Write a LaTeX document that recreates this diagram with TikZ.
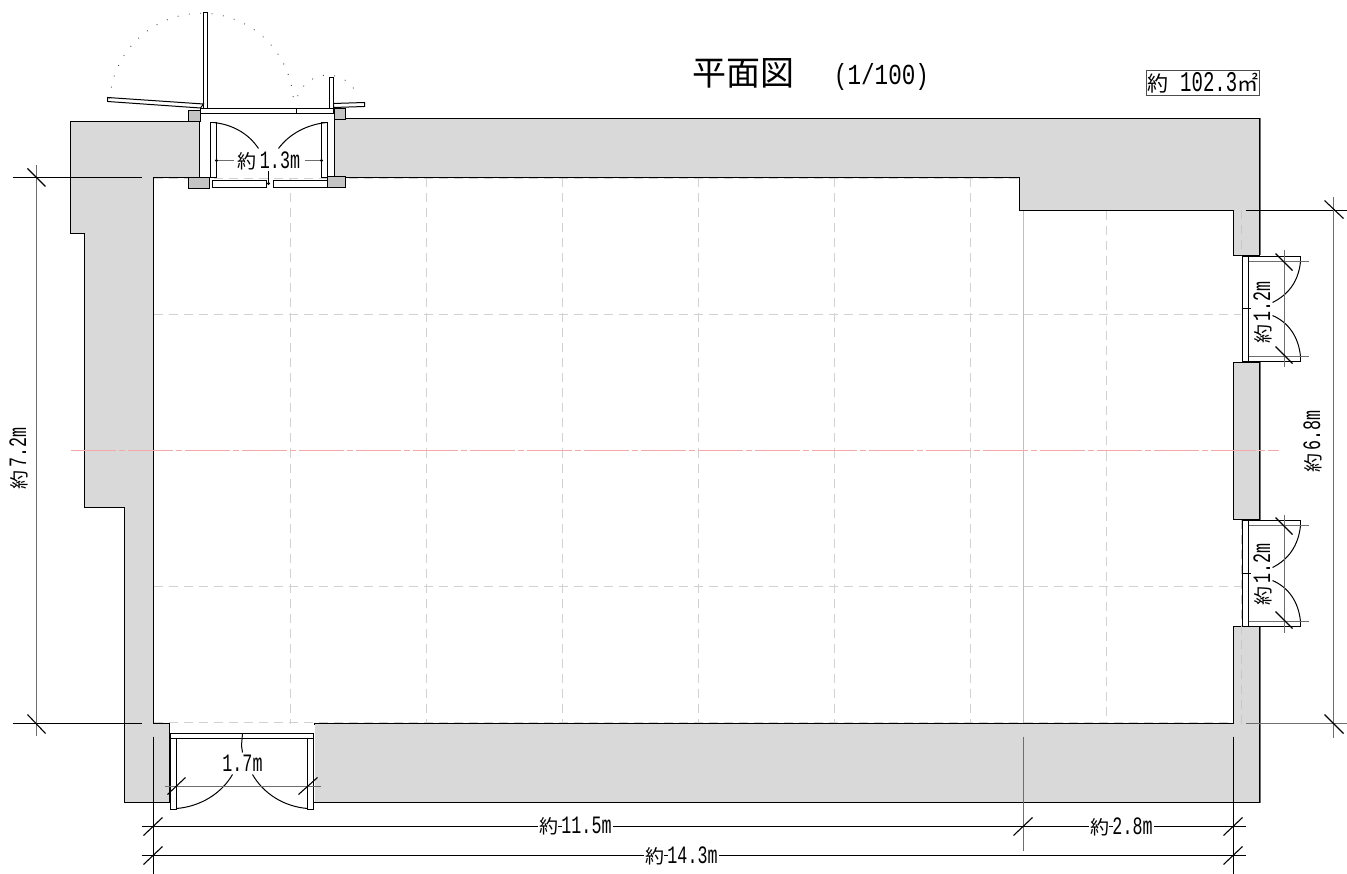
\documentclass[tikz,border=0pt]{standalone}
\usepackage{fontspec}
\setmainfont{Liberation Sans}
\newfontfamily\jpf{Noto Sans CJK JP}
\newfontfamily\hwf[FakeStretch=0.667]{Liberation Mono}
\newfontfamily\hwt[FakeStretch=0.78]{Liberation Mono}
\newcommand{\dimlab}[1]{{\jpf\fontsize{19}{19}\selectfont 約}\kern3pt{\hwf\fontsize{25}{25}\selectfont #1}}
\usetikzlibrary{calc}
\definecolor{wallgrey}{HTML}{D9D9D9}
\definecolor{postgrey}{HTML}{C4C4C4}
\definecolor{gridgrey}{HTML}{D2D2D2}
\definecolor{dimgrey}{HTML}{6E6E6E}
\definecolor{axisred}{HTML}{F4A8A8}
\tikzset{
  wall/.style={fill=wallgrey,draw=black,line width=1pt,line join=miter},
  post/.style={fill=postgrey,draw=black,line width=1pt},
  panel/.style={fill=white,draw=black,line width=1pt},
  gridline/.style={draw=gridgrey,line width=1pt,dash pattern=on 9pt off 6pt},
  griddark/.style={draw=black!22,line width=1pt,dash pattern=on 9pt off 6pt},
  axisline/.style={draw=axisred,line width=1pt,dash pattern=on 45pt off 3pt on 6pt off 3pt},
  dimline/.style={draw=black,line width=1pt},
  dimsoft/.style={draw=dimgrey,line width=1.3pt},
  tick/.style={draw=black,line width=1.1pt},
  swing/.style={draw=black,line width=1pt},
  ghost/.style={draw=black!70,line width=0.9pt,dash pattern=on 0.9pt off 10.5pt},
  lab/.style={inner sep=0pt,outer sep=0pt,text=black},
  labw/.style={inner sep=1.5pt,outer sep=0pt,fill=white,text=black}
}
\begin{document}
\begin{tikzpicture}[x=1pt,y=-1pt]
\useasboundingbox (0,0) rectangle (1347,874);
\begin{scope}[shift={(0.5,0.5)}]
% room grid
\foreach \gx in {290,426,562,698,834,970}{\draw[gridline] (\gx,178)--(\gx,723);}
\draw[gridline] (1106,211)--(1106,723);
\draw[gridline] (153,314)--(1240,314);
\draw[gridline] (153,586)--(1240,586);
\draw[gridline] (153,178)--(1019,178);
\draw[gridline] (153,722)--(1233,722);
\draw[draw=black!25,line width=1pt] (1023,210)--(1023,723);
% walls
\draw[wall] (70,121)--(199,121)--(199,177)--(153,177)--(153,723)--(169,723)--(169,802)--(124,802)--(124,507)--(84,507)--(84,233)--(70,233)--cycle;
\draw[wall] (334,118)--(1259,118)--(1259,255)--(1233,255)--(1233,210)--(1019,210)--(1019,177)--(334,177)--cycle;
\draw[wall] (1233,362)--(1259,362)--(1259,519)--(1233,519)--cycle;
\draw[wall] (1233,626)--(1259,626)--(1259,802)--(314,802)--(314,723)--(1233,723)--cycle;
\draw[draw=dimgrey,line width=1.3pt] (1260,118)--(1260,255) (1260,362)--(1260,519) (1260,626)--(1260,802);
% dashes inside the right wall
\draw[griddark] (1241,210)--(1241,255) (1241,519)--(1241,723);
% axis
\draw[axisline] (70,450)--(1278,450);
% top entrance
\draw[post] (188,110) rectangle (200,121);
\draw[post] (334,108) rectangle (345,119);
\draw[post] (188,177) rectangle (209,188);
\draw[post] (327,176) rectangle (345,187);
\draw[panel] (200,108) rectangle (296,113);
\draw[panel] (296,108) rectangle (333,113);
\draw[panel] (203,12) rectangle (207,108);
\draw[panel] (329,77) rectangle (333,108);
\draw[panel] (107,97)--(203,103.5)--(200,107.5)--(107,101)--cycle;
\draw[panel] (333,103)--(364,102)--(364,106)--(333,107)--cycle;
\draw[ghost] (205,105) ++(-176:96) arc[start angle=-176,end angle=-5,radius=92];
\draw[ghost] (331,108) ++(-160:36) arc[start angle=-160,end angle=-20,radius=32];
\draw[panel] (210,122) rectangle (216,177);
\draw[panel] (321,122) rectangle (327,177);
\draw[panel] (212,180)--(266,180)--(266,187)--(212,187)--cycle;
\draw[panel] (273,180)--(327,180)--(327,187)--(273,187)--cycle;
\draw[swing] (213,122) .. controls (232,124) and (248,133) .. (258,148);
\draw[swing] (326,122) .. controls (307,124) and (289,133) .. (278,148);
\draw[dimline] (268,171)--(268,185);
\fill (268,183) circle (1.7pt);
\node[lab] (w13) at (268.5,160) {\dimlab{1.3m}};
\draw[dimsoft] (216,160)--(233,160);
\draw[dimsoft] (304,160)--(321,160);
\fill (216,160) circle (1.7pt) (321,160) circle (1.7pt);
% bottom entrance
\fill[white] (170,724) rectangle (314,801);
\draw[panel] (170,733) rectangle (313,738);
\draw[panel] (170,738) rectangle (176,809);
\draw[panel] (307,738) rectangle (313,809);
\draw[swing] (176,808) .. controls (200,806) and (221,793) .. (232,774);
\draw[swing] (307,808) .. controls (283,806) and (263,793) .. (252,774);
\draw[dimline] (242,733)--(241,745)--(242,752);
\node[lab] (w17) at (242,763) {{\hwf\fontsize{25}{25}\selectfont 1.7m}};
\draw[dimsoft] (164,786)--(320,786);
\draw[tick] (167,794)--(185,777);
\draw[tick] (298,794)--(317,777);
% right doors
\foreach \ya/\yb/\ym in {256/361/308,520/626/573}{
  \draw[panel] (1242,\ya) rectangle (1248,\yb);
  \draw[panel] (1248,\ya) rectangle (1300,\ya+5);
  \draw[panel] (1248,\yb-5) rectangle (1300,\yb);
  \draw[dimline] (1242,\ym)--(1250,\ym);
  \draw[swing] (1300,\ya+5) .. controls (1298,\ya+25) and (1288,\ym-14) .. (1272,\ym-6);
  \draw[swing] (1300,\yb-5) .. controls (1298,\yb-25) and (1288,\ym+14) .. (1272,\ym+7);
  \draw[dimsoft] (1284,\ya-6)--(1284,\yb+6);
  \draw[dimsoft] (1248,\ya+5)--(1308,\ya+5);
  \draw[dimsoft] (1248,\yb-5)--(1308,\yb-5);
  \draw[tick] (1275,\ya-3)--(1292,\ya+14);
  \draw[tick] (1275,\yb-15)--(1292,\yb+2);
}
\node[lab,rotate=90] (w12a) at (1262,312) {\dimlab{1.2m}};
\node[lab,rotate=90] (w12b) at (1262,574) {\dimlab{1.2m}};
% left dimension
\coordinate (lt) at (36,177);
\coordinate (lb) at (36,723);
\draw[dimline] (12,177)--(141,177);
\draw[dimline] (12,723)--(141,723);
\draw[dimsoft] ($(lt)+(0,-12)$)--($(lb)+(0,12)$);
\draw[tick] (27,168)--(45,186);
\draw[tick] (27,714)--(45,733);
\node[lab,rotate=90] (d72) at (18,458) {\dimlab{7.2m}};
% right dimension
\coordinate (rt) at (1333,210);
\coordinate (rb) at (1333,723);
\draw[dimline] (1245,210)--(1347,210);
\draw[dimsoft] (1245,723)--(1347,723);
\draw[dimsoft] ($(rt)+(0,-13)$)--($(rb)+(0,14)$);
\draw[tick] (1324,200)--(1343,218);
\draw[tick] (1324,714)--(1343,733);
\node[lab,rotate=90] (d68) at (1312,441) {\dimlab{6.8m}};
% bottom dimensions
\draw[dimline] (153,736)--(153,874);
\draw[dimsoft] (1023,736)--(1023,850);
\draw[dimline] (1233,736)--(1233,874);
\draw[dimline] (141,826)--(1245,826);
\draw[dimline] (141,855)--(1245,855);
\foreach \tx in {153,1023,1233}{\draw[tick] (\tx-10,835)--(\tx+9,817);}
\foreach \tx in {153,1233}{\draw[tick] (\tx-10,864)--(\tx+9,846);}
\node[labw] (d115) at (575,826) {\dimlab{11.5m}};
\node[labw] (d28) at (1121,826) {\dimlab{2.8m}};
\node[labw] (d143) at (681,855) {\dimlab{14.3m}};
\foreach \n in {d115,d28,d143}{\draw[dimline] ($(\n.west)+(20,0)$)--++(4,0);}
% title
\node[lab] (title) at (743,73) {{\jpf\fontsize{34}{34}\selectfont 平面図}};
\node[lab] (scale) at (881,77) {{\hwt\fontsize{29}{29}\selectfont (1/100)}};
\node[lab,draw=black!70,line width=1pt,minimum width=113pt,minimum height=25pt] (area) at (1202.5,82.5) {{\jpf\fontsize{21}{21}\selectfont 約}{\hwf\fontsize{28.5}{28.5}\selectfont\ 102.3}{\jpf\fontsize{21}{21}\selectfont ㎡}};
\end{scope}
\end{tikzpicture}
\end{document}
